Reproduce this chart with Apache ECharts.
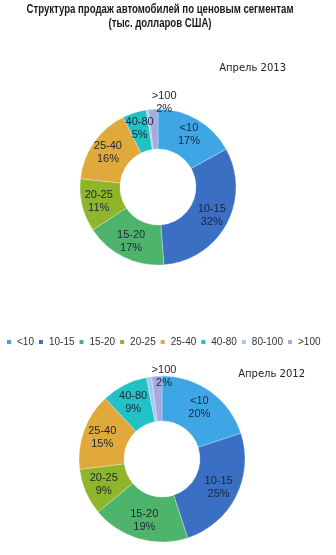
<!DOCTYPE html>
<html>
<head>
<meta charset="utf-8">
<script src="https://cdn.jsdelivr.net/npm/echarts@6/dist/echarts.min.js"></script>
<style>
  html, body { margin: 0; padding: 0; background: #fff; }
  #chart { width: 336px; height: 555px; }
</style>
</head>
<body>
<div id="chart"></div>
<script>
// Price segments (thousand USD)
const categories = ['<10', '10-15', '15-20', '20-25', '25-40', '40-80', '80-100', '>100'];
// Share of sales, %
const values2013 = [17, 32, 17, 11, 16, 5, 0.4, 2];
const values2012 = [20, 25, 19, 9, 15, 9, 1, 2];
const colors = ['#3fa6e6', '#3b6fc3', '#4eb46b', '#8fb52a', '#e1a93c', '#21c2c6', '#9fcbf1', '#a6aae0'];

const titleLines = ['Структура продаж автомобилей по ценовым сегментам', '(тыс. долларов США)'];
const periodLabels = ['Апрель 2013', 'Апрель 2012'];

const sans = "'Liberation Sans', Arial, sans-serif";

function buildData(values, topOffset) {
  return categories.map((name, i) => {
    const item = { name: name, value: values[i] };
    if (name === '80-100') item.label = { show: false };
    if (name === '>100') item.label = { offset: topOffset };
    return item;
  });
}

const labelStyle = {
  show: true,
  position: 'inside',
  formatter: '{b}\n{c}%',
  fontFamily: sans,
  fontSize: 11,
  lineHeight: 13,
  color: '#1b2635'
};

// Condensed heading: regular face squeezed horizontally
function heading(text, y) {
  return {
    type: 'text', x: 160, y: y, scaleX: 0.8, silent: true,
    style: {
      text: text, textAlign: 'center', textVerticalAlign: 'middle',
      font: 'bold 12px ' + sans, fill: '#1a1a1a'
    }
  };
}

const chart = echarts.init(document.getElementById('chart'), null, { renderer: 'canvas' });
chart.setOption({
  backgroundColor: '#ffffff',
  color: colors,
  animation: false,
  graphic: [heading(titleLines[0], 10), heading(titleLines[1], 24)],
  title: [
    {
      text: periodLabels[0], right: 45, top: 58,
      textStyle: { fontFamily: "'DejaVu Sans', sans-serif", fontWeight: 'normal', fontSize: 10, color: '#222' }
    },
    {
      text: periodLabels[1], right: 26, top: 364,
      textStyle: { fontFamily: "'DejaVu Sans', sans-serif", fontWeight: 'normal', fontSize: 10, color: '#222' }
    }
  ],
  legend: {
    data: categories,
    left: 5, top: 337, padding: 0, width: 331,
    icon: 'rect', itemWidth: 6, itemHeight: 6, itemGap: 3,
    textStyle: { fontFamily: sans, fontSize: 10, color: '#333' }
  },
  series: [
    {
      name: periodLabels[0], type: 'pie',
      center: [158, 187], radius: [38, 78],
      startAngle: 90, clockwise: true,
      avoidLabelOverlap: false,
      label: labelStyle,
      labelLine: { show: false },
      itemStyle: { borderColor: '#fff', borderWidth: 0.3 },
      emphasis: { disabled: true },
      data: buildData(values2013, [10, -24])
    },
    {
      name: periodLabels[1], type: 'pie',
      center: [162, 459], radius: [38, 83],
      startAngle: 90, clockwise: true,
      avoidLabelOverlap: false,
      label: labelStyle,
      labelLine: { show: false },
      itemStyle: { borderColor: '#fff', borderWidth: 0.3 },
      emphasis: { disabled: true },
      data: buildData(values2012, [6, -19])
    }
  ]
});
</script>
</body>
</html>
